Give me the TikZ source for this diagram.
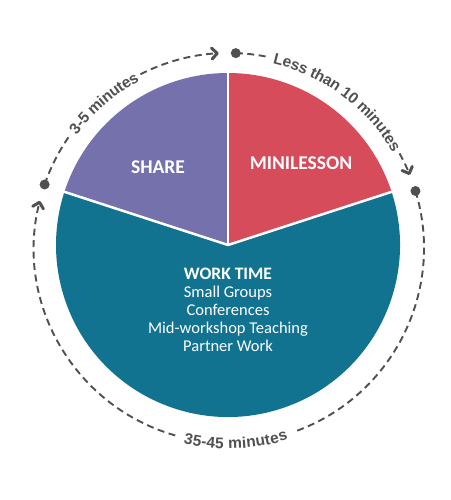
\documentclass[tikz,border=0pt]{standalone}
\usepackage{fontspec}
\setmainfont{Carlito}
\newfontfamily\arcfont{Liberation Sans}
\usetikzlibrary{arrows.meta, calc, decorations.text}
\definecolor{sharepurple}{HTML}{7571AD}
\definecolor{minired}{HTML}{D64C5A}
\definecolor{workteal}{HTML}{127390}
\definecolor{arcgray}{HTML}{505050}
\tikzset{
    my-gap/.style={
        draw=white, line width=2.5pt
    },
    my-dot/.style={
        fill=arcgray, shape=circle, minimum size=10pt, inner sep=0pt
    },
    my-dash/.style={
        draw=arcgray, line width=1.9pt, dash pattern=on 7pt off 4.5pt
    },
    my-arrow/.style={
        -{Straight Barb[length=5.5pt, width=11pt, line width=3pt, round]}
    },
    my-arc-text/.style={
        decorate, decoration={text along path, text align=center, raise=-5.5pt,
        text={|\arcfont\bfseries\fontsize{15.5}{18}\selectfont\color{arcgray}|#1}}
    },
    my-label/.style={
        text=white, font=\bfseries\fontsize{19.5}{22}\selectfont
    },
}
\begin{document}
\begin{tikzpicture}[x=1pt, y=1pt]

        \useasboundingbox (-228, -255) rectangle (222, 245);

        % PIE ---------------------------------------------------------------------------------------

        \coordinate (C) at (0, 0);
        \fill[workteal]    (C) -- (18:172)  arc[start angle=18, end angle=-198, radius=172] -- cycle;
        \fill[sharepurple] (C) -- (90:172)  arc[start angle=90, end angle=162,  radius=172] -- cycle;
        \fill[minired]     (C) -- (18:172)  arc[start angle=18, end angle=90,   radius=172] -- cycle;

        % WHITE GAPS BETWEEN SLICES
        \draw[my-gap] (C) -- (90:174);
        \draw[my-gap] (C) -- (18:174);
        \draw[my-gap] (C) -- (162:174);

        % SLICE LABELS
        \node[my-label] (SHARE) at (-70, 78) {SHARE};
        \node[my-label] (MINI)  at (73, 82)  {MINILESSON};
        \node[text=white, align=center, font=\fontsize{16.5}{18}\selectfont] (WORK) at (0, -65)
            {{\bfseries\fontsize{17.5}{18}\selectfont WORK TIME}\\Small Groups\\Conferences\\Mid-workshop Teaching\\Partner Work};

        % TIME RING ---------------------------------------------------------------------------------

        \coordinate (O) at (1, -3);
        \node[my-dot] (DOTLEFT)  at ($(O) + (161:195)$) {};
        \node[my-dot] (DOTTOP)   at ($(O) + (88:195)$)  {};
        \node[my-dot] (DOTRIGHT) at ($(O) + (17:195)$)  {};

        % SHARE - 3-5 MINUTES
        \draw[my-dash] (DOTLEFT.center) arc[start angle=161, end angle=145, radius=195];
        \path[my-arc-text={3-5 minutes}] ($(O) + (150:195)$) arc[start angle=150, end angle=111.6, radius=195];
        \draw[my-dash, my-arrow] ($(O) + (117:195)$) arc[start angle=117, end angle=93, radius=195];

        % MINILESSON - LESS THAN 10 MINUTES
        \draw[my-dash] (DOTTOP.center) arc[start angle=88, end angle=79, radius=195];
        \path[my-arc-text={Less than 10 minutes}] ($(O) + (83:195)$) arc[start angle=83, end angle=24, radius=195];
        \draw[my-dash, my-arrow] ($(O) + (29:195)$) arc[start angle=29, end angle=22, radius=195];

        % WORK TIME - 35-45 MINUTES
        \draw[my-dash] (DOTRIGHT.center) arc[start angle=17, end angle=-70, radius=195];
        \path[my-arc-text={35-45 minutes}] ($(O) + (-110:195)$) arc[start angle=-110, end angle=-66, radius=195];
        \draw[my-dash, my-arrow] ($(O) + (-106:195)$) arc[start angle=-106, end angle=-194, radius=195];

    \end{tikzpicture}
\end{document}
